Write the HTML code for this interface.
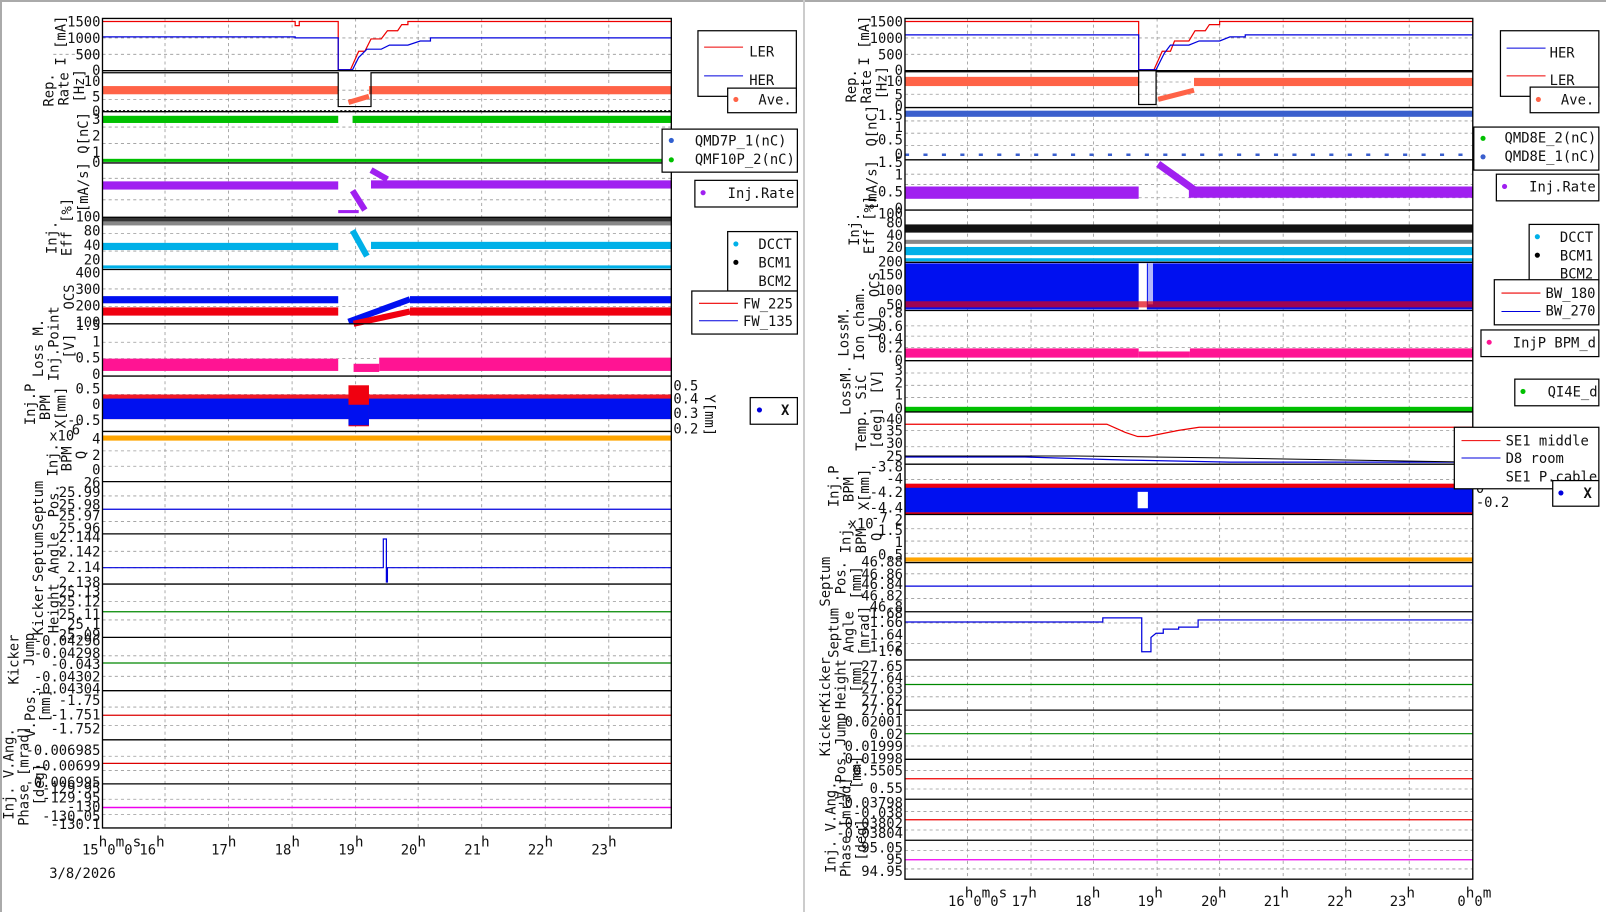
<!DOCTYPE html>
<html><head><meta charset="utf-8"><style>
html,body{margin:0;padding:0;background:#fff;width:1606px;height:912px;overflow:hidden}
svg{display:block}
text{font-family:"DejaVu Sans Mono","Liberation Mono",monospace;font-size:13.5px;fill:#111}
.t{text-anchor:end}
.big{font-size:20px}
.g{stroke:#999;stroke-width:0.8;stroke-dasharray:3,3;fill:none}
.f{fill:none;stroke:#000;stroke-width:1.3}
.lg{fill:#fff;stroke:#000;stroke-width:1.2}
</style></head><body>
<svg width="1606" height="912" viewBox="0 0 1606 912">
<rect x="0" y="0" width="1606" height="912" fill="#fff"/>
<rect x="0" y="0" width="1606" height="2" fill="#aaa"/>
<rect x="0" y="0" width="2" height="912" fill="#aaa"/>
<rect x="803" y="0" width="2" height="912" fill="#ccc"/>
<g transform="scale(1.0249,1.0247)">
<!-- ================= LEFT ================= -->
<g id="L">
<path class="g" d="M161 18V808M223 18V808M285 18V808M347 18V808M408 18V808M470 18V808M532 18V808M594 18V808"/>
<path class="g" d="M100 37H655M52 53H655M100 88H655M100 97H655M100 124H655M100 140H655M100 174H655M100 195H655M100 228H655M100 245H655M100 282H655M100 299H655M100 334H655M100 350H655M100 385H655M100 405H655M100 440H655M100 455H655M100 484H655M100 509H655M100 538H655M100 554H655M100 587H655M100 605H655M100 640H655M100 660H655M100 690H655M100 708H655M100 738H655M100 752H655M100 780H655M100 795H655"/>
<path d="M100 21H288V25H292V21H330V68H342L350 50H356L362 38H372L378 30H388L392 24H398V21H655" stroke="#e00" stroke-width="1.2" fill="none"/>
<path d="M100 36H288V37H330V68H344L350 56L358 48H372L380 44H398L410 40H420V37H655" stroke="#00d" stroke-width="1.2" fill="none"/>
<rect x="100" y="84" width="230" height="8" fill="#ff6347"/>
<rect x="360" y="84" width="295" height="8" fill="#ff6347"/>
<path d="M340 100L360 94" stroke="#ff6347" stroke-width="5"/>
<path d="M100 71H330V104H362V71H655" stroke="#000" stroke-width="1.2" fill="none"/>
<path d="M100 108H655" stroke="#000" stroke-dasharray="2,2"/>
<rect x="100" y="113" width="230" height="7" fill="#00c000"/>
<rect x="344" y="113" width="311" height="7" fill="#00c000"/>
<rect x="100" y="155" width="555" height="3" fill="#00c000"/>
<rect x="100" y="177" width="230" height="8" fill="#a020f0"/>
<rect x="362" y="176" width="293" height="8" fill="#a020f0"/>
<path d="M362 166L378 175M344 186L356 205" stroke="#a020f0" stroke-width="6"/>
<rect x="330" y="205" width="20" height="3" fill="#a020f0"/>
<rect x="100" y="212" width="555" height="7" fill="#333"/>
<rect x="100" y="216" width="555" height="4" fill="#888"/>
<rect x="100" y="237" width="230" height="7" fill="#00b0e8"/>
<rect x="362" y="236" width="293" height="7" fill="#00b0e8"/>
<path d="M344 225L358 250" stroke="#00b0e8" stroke-width="6"/>
<rect x="100" y="259" width="555" height="3" fill="#00b0e8"/>
<rect x="100" y="289" width="230" height="7" fill="#0010f0"/>
<rect x="400" y="289" width="255" height="7" fill="#0010f0"/>
<path d="M340 314L400 292" stroke="#0010f0" stroke-width="6"/>
<rect x="100" y="300" width="230" height="8" fill="#f00010"/>
<rect x="400" y="300" width="255" height="8" fill="#f00010"/>
<path d="M345 316L400 304" stroke="#f00010" stroke-width="6"/>
<rect x="100" y="350" width="230" height="12" fill="#ff1493"/>
<rect x="370" y="349" width="285" height="13" fill="#ff1493"/>
<rect x="345" y="355" width="25" height="8" fill="#ff1493"/>
<rect x="100" y="385" width="555" height="24" fill="#f00010" opacity="0.9"/>
<rect x="100" y="389" width="555" height="20" fill="#0010f0"/>
<rect x="340" y="376" width="20" height="40" fill="#f00010"/>
<rect x="340" y="395" width="20" height="20" fill="#0010f0"/>
<rect x="100" y="425" width="555" height="5" fill="#ffa500"/>
<path d="M100 497H655" stroke="#00d" stroke-width="1.2"/>
<path d="M100 554H374V526H377V568H378V554H655" stroke="#00d" stroke-width="1.2" fill="none"/>
<path d="M100 597H655" stroke="#080" stroke-width="1.2"/>
<path d="M100 647H655" stroke="#080" stroke-width="1.2"/>
<path d="M100 698H655" stroke="#d00" stroke-width="1.2"/>
<path d="M100 745H655" stroke="#d00" stroke-width="1.2"/>
<path d="M100 788H655" stroke="#e0e" stroke-width="1.5"/>
<rect class="f" x="100" y="18" width="555" height="790"/>
<path d="M100 69H655M100 109H655M100 159H655M100 212H655M100 263H655M100 316H655M100 367H655M100 421H655M100 470H655M100 521H655M100 570H655M100 622H655M100 674H655M100 722H655M100 765H655" stroke="#000" stroke-width="1.3"/>
<g class="t">
<text x="98" y="26">1500</text><text x="98" y="42">1000</text><text x="98" y="58">500</text><text x="98" y="73">0</text>
<text x="98" y="84">10</text><text x="98" y="99">5</text><text x="98" y="113">0</text>
<text x="98" y="121">3</text><text x="98" y="137">2</text><text x="98" y="153">1</text><text x="98" y="163">0</text>
<text x="98" y="216">100</text><text x="98" y="230">80</text><text x="98" y="244">40</text><text x="98" y="258">20</text>
<text x="98" y="271">400</text><text x="98" y="287">300</text><text x="98" y="303">200</text><text x="98" y="319">100</text>
<text x="98" y="322">1.5</text><text x="98" y="338">1</text><text x="98" y="354">0.5</text><text x="98" y="370">0</text>
<text x="98" y="384">0.5</text><text x="98" y="399">0</text><text x="98" y="415">-0.5</text>
<text x="98" y="433">4</text><text x="98" y="449">2</text><text x="98" y="463">0</text>
<text x="98" y="476">26</text><text x="98" y="485">25.99</text><text x="98" y="497">25.98</text><text x="98" y="508">25.97</text><text x="98" y="520">25.96</text>
<text x="98" y="529">2.144</text><text x="98" y="543">2.142</text><text x="98" y="558">2.14</text><text x="98" y="573">2.138</text>
<text x="98" y="582">25.13</text><text x="98" y="592">25.12</text><text x="98" y="604">25.11</text><text x="98" y="614">25.1</text><text x="98" y="624">25.09</text>
<text x="98" y="630">-0.04296</text><text x="98" y="642">-0.04298</text><text x="98" y="653">-0.043</text><text x="98" y="665">-0.04302</text><text x="98" y="677">-0.04304</text>
<text x="98" y="688">-1.75</text><text x="98" y="702">-1.751</text><text x="98" y="716">-1.752</text>
<text x="98" y="737">-0.006985</text><text x="98" y="752">-0.00699</text><text x="98" y="768">-0.006995</text>
<text x="98" y="774">-129.95</text><text x="98" y="783">-129.95</text><text x="98" y="792">-130</text><text x="98" y="801">-130.05</text><text x="98" y="809">-130.1</text>
</g>
<text x="48" y="430" font-size="12">x10</text><text x="70" y="424" font-size="9">6</text>
<text x="657" y="381">0.5</text><text x="657" y="394">0.4</text><text x="657" y="408">0.3</text><text x="657" y="423">0.2</text>
<text transform="translate(688,385) rotate(90)" font-size="12">Y[mm]</text>
<g font-size="13">
<text transform="translate(64,64) rotate(-90)">I [mA]</text>
<text transform="translate(52,104) rotate(-90)">Rep.</text><text transform="translate(67,103) rotate(-90)">Rate</text><text transform="translate(82,100) rotate(-90)">[Hz]</text>
<text transform="translate(86,150) rotate(-90)">Q[nC]</text>
<text transform="translate(86,207) rotate(-90)">[mA/s]</text>
<text transform="translate(55,248) rotate(-90)">Inj.</text><text transform="translate(70,250) rotate(-90)">Eff [%]</text>
<text transform="translate(72,302) rotate(-90)">OCS</text>
<text transform="translate(42,368) rotate(-90)">Loss M.</text><text transform="translate(57,372) rotate(-90)">Inj.Point</text><text transform="translate(72,350) rotate(-90)">[V]</text>
<text transform="translate(34,415) rotate(-90)">Inj.P</text><text transform="translate(49,410) rotate(-90)">BPM</text><text transform="translate(64,418) rotate(-90)">X[mm]</text>
<text transform="translate(56,465) rotate(-90)">Inj.</text><text transform="translate(70,460) rotate(-90)">BPM</text><text transform="translate(84,448) rotate(-90)">Q</text>
<text transform="translate(42,518) rotate(-90)">Septum</text><text transform="translate(57,505) rotate(-90)">Pos.</text>
<text transform="translate(42,568) rotate(-90)">Septum</text><text transform="translate(57,560) rotate(-90)">Angle</text>
<text transform="translate(42,620) rotate(-90)">Kicker</text><text transform="translate(57,618) rotate(-90)">Height</text>
<text transform="translate(18,668) rotate(-90)">Kicker</text><text transform="translate(33,650) rotate(-90)">Jump</text>
<text transform="translate(34,720) rotate(-90)">V.Pos.</text><text transform="translate(49,705) rotate(-90)">[mm]</text>
<text transform="translate(13,800) rotate(-90)">Inj. V.Ang.</text><text transform="translate(28,806) rotate(-90)">Phase [mrad]</text><text transform="translate(43,786) rotate(-90)">[deg]</text>
</g>
<g class="big">
<text x="80" y="834">15<tspan dy="-8" font-size="14">h</tspan><tspan dy="8">0</tspan><tspan dy="-8" font-size="14">m</tspan><tspan dy="8">0</tspan><tspan dy="-8" font-size="14">s</tspan></text>
<text x="136" y="834">16<tspan dy="-8" font-size="14">h</tspan></text>
<text x="206" y="834">17<tspan dy="-8" font-size="14">h</tspan></text>
<text x="268" y="834">18<tspan dy="-8" font-size="14">h</tspan></text>
<text x="330" y="834">19<tspan dy="-8" font-size="14">h</tspan></text>
<text x="391" y="834">20<tspan dy="-8" font-size="14">h</tspan></text>
<text x="453" y="834">21<tspan dy="-8" font-size="14">h</tspan></text>
<text x="515" y="834">22<tspan dy="-8" font-size="14">h</tspan></text>
<text x="577" y="834">23<tspan dy="-8" font-size="14">h</tspan></text>
<text x="48" y="857" font-size="18">3/8/2026</text>
</g>
<rect class="lg" x="681" y="30" width="96" height="64"/>
<path d="M687 46H725" stroke="#e00"/><text x="731" y="55" font-size="22">LER</text>
<path d="M687 74H725" stroke="#00d"/><text x="731" y="83" font-size="22">HER</text>
<rect class="lg" x="710" y="86" width="67" height="24"/><circle cx="718" cy="97" r="2.5" fill="#ff6347"/><text x="740" y="102">Ave.</text>
<rect class="lg" x="646" y="126" width="132" height="42"/><circle cx="655" cy="137" r="2.5" fill="#3060d0"/><text x="678" y="142">QMD7P_1(nC)</text><circle cx="655" cy="156" r="2.5" fill="#00c000"/><text x="678" y="160">QMF10P_2(nC)</text>
<rect class="lg" x="678" y="176" width="100" height="26"/><circle cx="686" cy="188" r="2.5" fill="#a020f0"/><text x="710" y="193">Inj.Rate</text>
<rect class="lg" x="710" y="226" width="68" height="58"/><circle cx="718" cy="238" r="2.5" fill="#00b0e8"/><text x="740" y="243">DCCT</text><circle cx="718" cy="256" r="2.5" fill="#000"/><text x="740" y="261">BCM1</text><text x="740" y="279">BCM2</text>
<rect class="lg" x="675" y="284" width="103" height="42"/><path d="M682 296H720" stroke="#e00"/><text x="725" y="301">FW_225</text><path d="M682 313H720" stroke="#00d"/><text x="725" y="318">FW_135</text>
<rect class="lg" x="732" y="388" width="46" height="26"/><circle cx="741" cy="400" r="2.5" fill="#00d"/><text x="762" y="405" font-weight="bold">X</text>
</g>

<!-- ================= RIGHT ================= -->
<g id="R">
<path class="g" d="M944 18V858M1006 18V858M1067 18V858M1129 18V858M1190 18V858M1252 18V858M1313 18V858M1375 18V858"/>
<path class="g" d="M883 37H1437M883 53H1437M883 80H1437M883 92H1437M883 118H1437M883 130H1437M883 142H1437M883 170H1437M883 180H1437M883 193H1437M883 220H1437M883 243H1437M883 318H1437M883 328H1437M883 339H1437M883 364H1437M883 376H1437M883 388H1437M883 420H1437M883 436H1437M883 468H1437M883 484H1437M883 516H1437M883 528H1437M883 540H1437M883 560H1437M883 584H1437M883 608H1437M883 628H1437M883 660H1437M883 680H1437M883 708H1437M883 728H1437M883 752H1437M883 770H1437M883 792H1437M883 810H1437M883 830H1437M883 848H1437"/>
<path d="M883 21H1111V68H1126L1134 50H1142L1146 40H1160L1166 30H1176L1180 24H1190V21H1437" stroke="#e00" stroke-width="1.2" fill="none"/>
<path d="M883 34H1111V68H1128L1136 52L1142 44H1160L1170 40H1190L1200 36H1215V34H1437" stroke="#00d" stroke-width="1.2" fill="none"/>
<rect x="883" y="75" width="228" height="9" fill="#ff6347"/>
<rect x="1165" y="76" width="272" height="8" fill="#ff6347"/>
<path d="M1130 97L1165 88" stroke="#ff6347" stroke-width="5"/>
<path d="M883 70H1111V102H1128V70H1437" stroke="#000" stroke-width="1.2" fill="none"/>
<rect x="883" y="108" width="554" height="6" fill="#3a5fcd"/>
<path d="M883 151H1437" stroke="#3a5fcd" stroke-width="2.5" stroke-dasharray="4,14"/>
<rect x="883" y="182" width="228" height="12" fill="#a020f0"/>
<rect x="1160" y="182" width="277" height="11" fill="#a020f0"/>
<path d="M1130 160L1165 185" stroke="#a020f0" stroke-width="7"/>
<rect x="883" y="219" width="554" height="8" fill="#111"/>
<rect x="883" y="234" width="554" height="4" fill="#888"/>
<rect x="883" y="241" width="554" height="8" fill="#00b0e8"/>
<rect x="883" y="252" width="554" height="3" fill="#00b0e8"/>
<rect x="883" y="257" width="554" height="45" fill="#0010f0"/>
<rect x="1111" y="257" width="8" height="46" fill="#fff"/>
<rect x="1120" y="257" width="5" height="40" fill="#fff" opacity="0.7"/>
<rect x="883" y="294" width="554" height="6" fill="#e00010" opacity="0.7"/>
<rect x="883" y="340" width="228" height="9" fill="#ff1493"/>
<rect x="1111" y="343" width="50" height="6" fill="#ff1493"/>
<rect x="1161" y="340" width="276" height="9" fill="#ff1493"/>
<rect x="883" y="397" width="554" height="5" fill="#00c000"/>
<path d="M883 414H1080L1098 422L1110 426H1120L1150 420L1170 417H1437" stroke="#e00" stroke-width="1.2" fill="none"/>
<path d="M883 446H1000L1100 449L1200 451H1437" stroke="#00d" stroke-width="1.2" fill="none"/>
<path d="M883 445H1050L1200 447L1437 451" stroke="#000" stroke-width="1" fill="none"/>
<rect x="883" y="472" width="554" height="30" fill="#f00010"/>
<rect x="883" y="476" width="554" height="24" fill="#0010f0"/>
<rect x="1110" y="480" width="10" height="16" fill="#fff"/>
<rect x="883" y="544" width="554" height="4" fill="#ffa500"/>
<path d="M883 572H1437" stroke="#00d" stroke-width="1.2"/>
<path d="M883 607H1076V603H1114V636H1123V622L1128 618H1135V614H1150V612H1169V605H1437" stroke="#00d" stroke-width="1.2" fill="none"/>
<path d="M883 668H1437" stroke="#080" stroke-width="1.2"/>
<path d="M883 716H1437" stroke="#080" stroke-width="1.2"/>
<path d="M883 760H1437" stroke="#e00" stroke-width="1.2"/>
<path d="M883 800H1437" stroke="#e00" stroke-width="1.2"/>
<path d="M883 839H1437" stroke="#e0e" stroke-width="1.2"/>
<rect class="f" x="883" y="18" width="554" height="840"/>
<path d="M883 69H1437M883 105H1437M883 156H1437M883 205H1437M883 256H1437M883 303H1437M883 352H1437M883 402H1437M883 453H1437M883 502H1437M883 549H1437M883 597H1437M883 644H1437M883 693H1437M883 741H1437M883 780H1437M883 820H1437" stroke="#000" stroke-width="1.3"/>
<g class="t">
<text x="881" y="26">1500</text><text x="881" y="42">1000</text><text x="881" y="58">500</text><text x="881" y="73">0</text>
<text x="881" y="84">10</text><text x="881" y="97">5</text><text x="881" y="108">0</text>
<text x="881" y="117">1.5</text><text x="881" y="129">1</text><text x="881" y="141">0.5</text><text x="881" y="155">0</text>
<text x="881" y="163">1.5</text><text x="881" y="175">1</text><text x="881" y="192">0.5</text><text x="881" y="208">0</text>
<text x="881" y="213">100</text><text x="881" y="222">80</text><text x="881" y="234">40</text><text x="881" y="246">20</text>
<text x="881" y="260">200</text><text x="881" y="273">150</text><text x="881" y="288">100</text><text x="881" y="302">50</text>
<text x="881" y="310">0.8</text><text x="881" y="323">0.6</text><text x="881" y="335">0.4</text><text x="881" y="344">0.2</text><text x="881" y="356">0</text>
<text x="881" y="366">3</text><text x="881" y="378">2</text><text x="881" y="390">1</text><text x="881" y="403">0</text>
<text x="881" y="414">40</text><text x="881" y="425">35</text><text x="881" y="437">30</text><text x="881" y="450">25</text>
<text x="881" y="460">-3.8</text><text x="881" y="472">-4</text><text x="881" y="485">-4.2</text><text x="881" y="500">-4.4</text>
<text x="881" y="512">2</text><text x="881" y="522">1.5</text><text x="881" y="534">1</text><text x="881" y="546">0.5</text>
<text x="881" y="553">46.88</text><text x="881" y="565">46.86</text><text x="881" y="575">46.84</text><text x="881" y="586">46.82</text><text x="881" y="597">46.8</text>
<text x="881" y="603">1.68</text><text x="881" y="612">1.66</text><text x="881" y="624">1.64</text><text x="881" y="636">1.62</text><text x="881" y="640">1.6</text>
<text x="881" y="655">27.65</text><text x="881" y="666">27.64</text><text x="881" y="677">27.63</text><text x="881" y="688">27.62</text><text x="881" y="698">27.61</text>
<text x="881" y="709">0.02001</text><text x="881" y="721">0.02</text><text x="881" y="733">0.01999</text><text x="881" y="745">0.01998</text>
<text x="881" y="757">0.5505</text><text x="881" y="774">0.55</text>
<text x="881" y="788">-0.03798</text><text x="881" y="798">-0.038</text><text x="881" y="808">-0.03802</text><text x="881" y="818">-0.03804</text>
<text x="881" y="832">95.05</text><text x="881" y="843">95</text><text x="881" y="855">94.95</text>
</g>
<text x="828" y="516" font-size="12">x10</text><text x="850" y="510" font-size="9">-7</text>
<text x="1440" y="464">0.2</text><text x="1440" y="481">0</text><text x="1440" y="495">-0.2</text>
<g font-size="13">
<text transform="translate(848,64) rotate(-90)">I [mA]</text>
<text transform="translate(835,100) rotate(-90)">Rep.</text><text transform="translate(850,101) rotate(-90)">Rate</text><text transform="translate(865,97) rotate(-90)">[Hz]</text>
<text transform="translate(855,143) rotate(-90)">Q[nC]</text>
<text transform="translate(855,205) rotate(-90)">[mA/s]</text>
<text transform="translate(838,240) rotate(-90)">Inj.</text><text transform="translate(853,248) rotate(-90)">Eff [%]</text>
<text transform="translate(858,290) rotate(-90)">OCS</text>
<text transform="translate(828,348) rotate(-90)">LossM.</text><text transform="translate(843,352) rotate(-90)">Ion cham.</text><text transform="translate(858,332) rotate(-90)">[V]</text>
<text transform="translate(830,405) rotate(-90)">LossM.</text><text transform="translate(845,390) rotate(-90)">SiC</text><text transform="translate(860,385) rotate(-90)">[V]</text>
<text transform="translate(845,440) rotate(-90)">Temp.</text><text transform="translate(860,438) rotate(-90)">[deg]</text>
<text transform="translate(818,495) rotate(-90)">Inj.P</text><text transform="translate(833,490) rotate(-90)">BPM</text><text transform="translate(848,498) rotate(-90)">X[mm]</text>
<text transform="translate(830,540) rotate(-90)">Inj.</text><text transform="translate(845,540) rotate(-90)">BPM</text><text transform="translate(860,528) rotate(-90)">Q</text>
<text transform="translate(810,592) rotate(-90)">Septum</text><text transform="translate(825,580) rotate(-90)">Pos.</text><text transform="translate(840,585) rotate(-90)">[mm]</text>
<text transform="translate(818,642) rotate(-90)">Septum</text><text transform="translate(833,637) rotate(-90)">Angle</text><text transform="translate(848,640) rotate(-90)">[mrad]</text>
<text transform="translate(810,690) rotate(-90)">Kicker</text><text transform="translate(825,692) rotate(-90)">Height</text><text transform="translate(840,676) rotate(-90)">[mm]</text>
<text transform="translate(810,738) rotate(-90)">Kicker</text><text transform="translate(825,728) rotate(-90)">Jump</text>
<text transform="translate(825,780) rotate(-90)">V.Pos.</text><text transform="translate(840,770) rotate(-90)">[mm]</text>
<text transform="translate(815,852) rotate(-90)">Inj. V.Ang.</text><text transform="translate(830,856) rotate(-90)">Phase [mrad]</text><text transform="translate(845,840) rotate(-90)">[deg]</text>
</g>
<g class="big">
<text x="925" y="884">16<tspan dy="-8" font-size="14">h</tspan><tspan dy="8">0</tspan><tspan dy="-8" font-size="14">m</tspan><tspan dy="8">0</tspan><tspan dy="-8" font-size="14">s</tspan></text>
<text x="987" y="884">17<tspan dy="-8" font-size="14">h</tspan></text>
<text x="1049" y="884">18<tspan dy="-8" font-size="14">h</tspan></text>
<text x="1110" y="884">19<tspan dy="-8" font-size="14">h</tspan></text>
<text x="1172" y="884">20<tspan dy="-8" font-size="14">h</tspan></text>
<text x="1233" y="884">21<tspan dy="-8" font-size="14">h</tspan></text>
<text x="1295" y="884">22<tspan dy="-8" font-size="14">h</tspan></text>
<text x="1356" y="884">23<tspan dy="-8" font-size="14">h</tspan></text>
<text x="1422" y="884">0<tspan dy="-8" font-size="14">h</tspan><tspan dy="8">0</tspan><tspan dy="-8" font-size="14">m</tspan></text>
</g>
<rect class="lg" x="1464" y="30" width="96" height="64"/>
<path d="M1470 47H1508" stroke="#00d"/><text x="1512" y="56" font-size="22">HER</text>
<path d="M1470 74H1508" stroke="#e00"/><text x="1512" y="83" font-size="22">LER</text>
<rect class="lg" x="1493" y="85" width="67" height="25"/><circle cx="1501" cy="97" r="2.5" fill="#ff6347"/><text x="1523" y="102">Ave.</text>
<rect class="lg" x="1438" y="124" width="122" height="42"/><circle cx="1447" cy="135" r="2.5" fill="#00c000"/><text x="1468" y="139">QMD8E_2(nC)</text><circle cx="1447" cy="153" r="2.5" fill="#3a5fcd"/><text x="1468" y="157">QMD8E_1(nC)</text>
<rect class="lg" x="1460" y="170" width="100" height="26"/><circle cx="1468" cy="182" r="2.5" fill="#a020f0"/><text x="1492" y="187">Inj.Rate</text>
<rect class="lg" x="1492" y="219" width="68" height="58"/><circle cx="1500" cy="231" r="2.5" fill="#00b0e8"/><text x="1522" y="236">DCCT</text><circle cx="1500" cy="249" r="2.5" fill="#000"/><text x="1522" y="254">BCM1</text><text x="1522" y="272">BCM2</text>
<rect class="lg" x="1458" y="273" width="102" height="44"/><path d="M1465 286H1503" stroke="#e00"/><text x="1508" y="291">BW_180</text><path d="M1465 304H1503" stroke="#00d"/><text x="1508" y="308">BW_270</text>
<rect class="lg" x="1445" y="322" width="115" height="26"/><circle cx="1453" cy="334" r="2.5" fill="#ff1493"/><text x="1476" y="339">InjP BPM_d</text>
<rect class="lg" x="1478" y="370" width="82" height="26"/><circle cx="1486" cy="382" r="2.5" fill="#00c000"/><text x="1510" y="387">QI4E_d</text>
<rect class="lg" x="1419" y="417" width="141" height="60"/><path d="M1426 430H1464" stroke="#e00"/><text x="1469" y="435">SE1 middle</text><path d="M1426 447H1464" stroke="#00d"/><text x="1469" y="452">D8 room</text><text x="1469" y="470">SE1 P.cable</text>
<rect class="lg" x="1515" y="469" width="45" height="25"/><circle cx="1523" cy="481" r="2.5" fill="#00d"/><text x="1545" y="486" font-weight="bold">X</text>
</g>
</g>
</svg>
</body></html>
